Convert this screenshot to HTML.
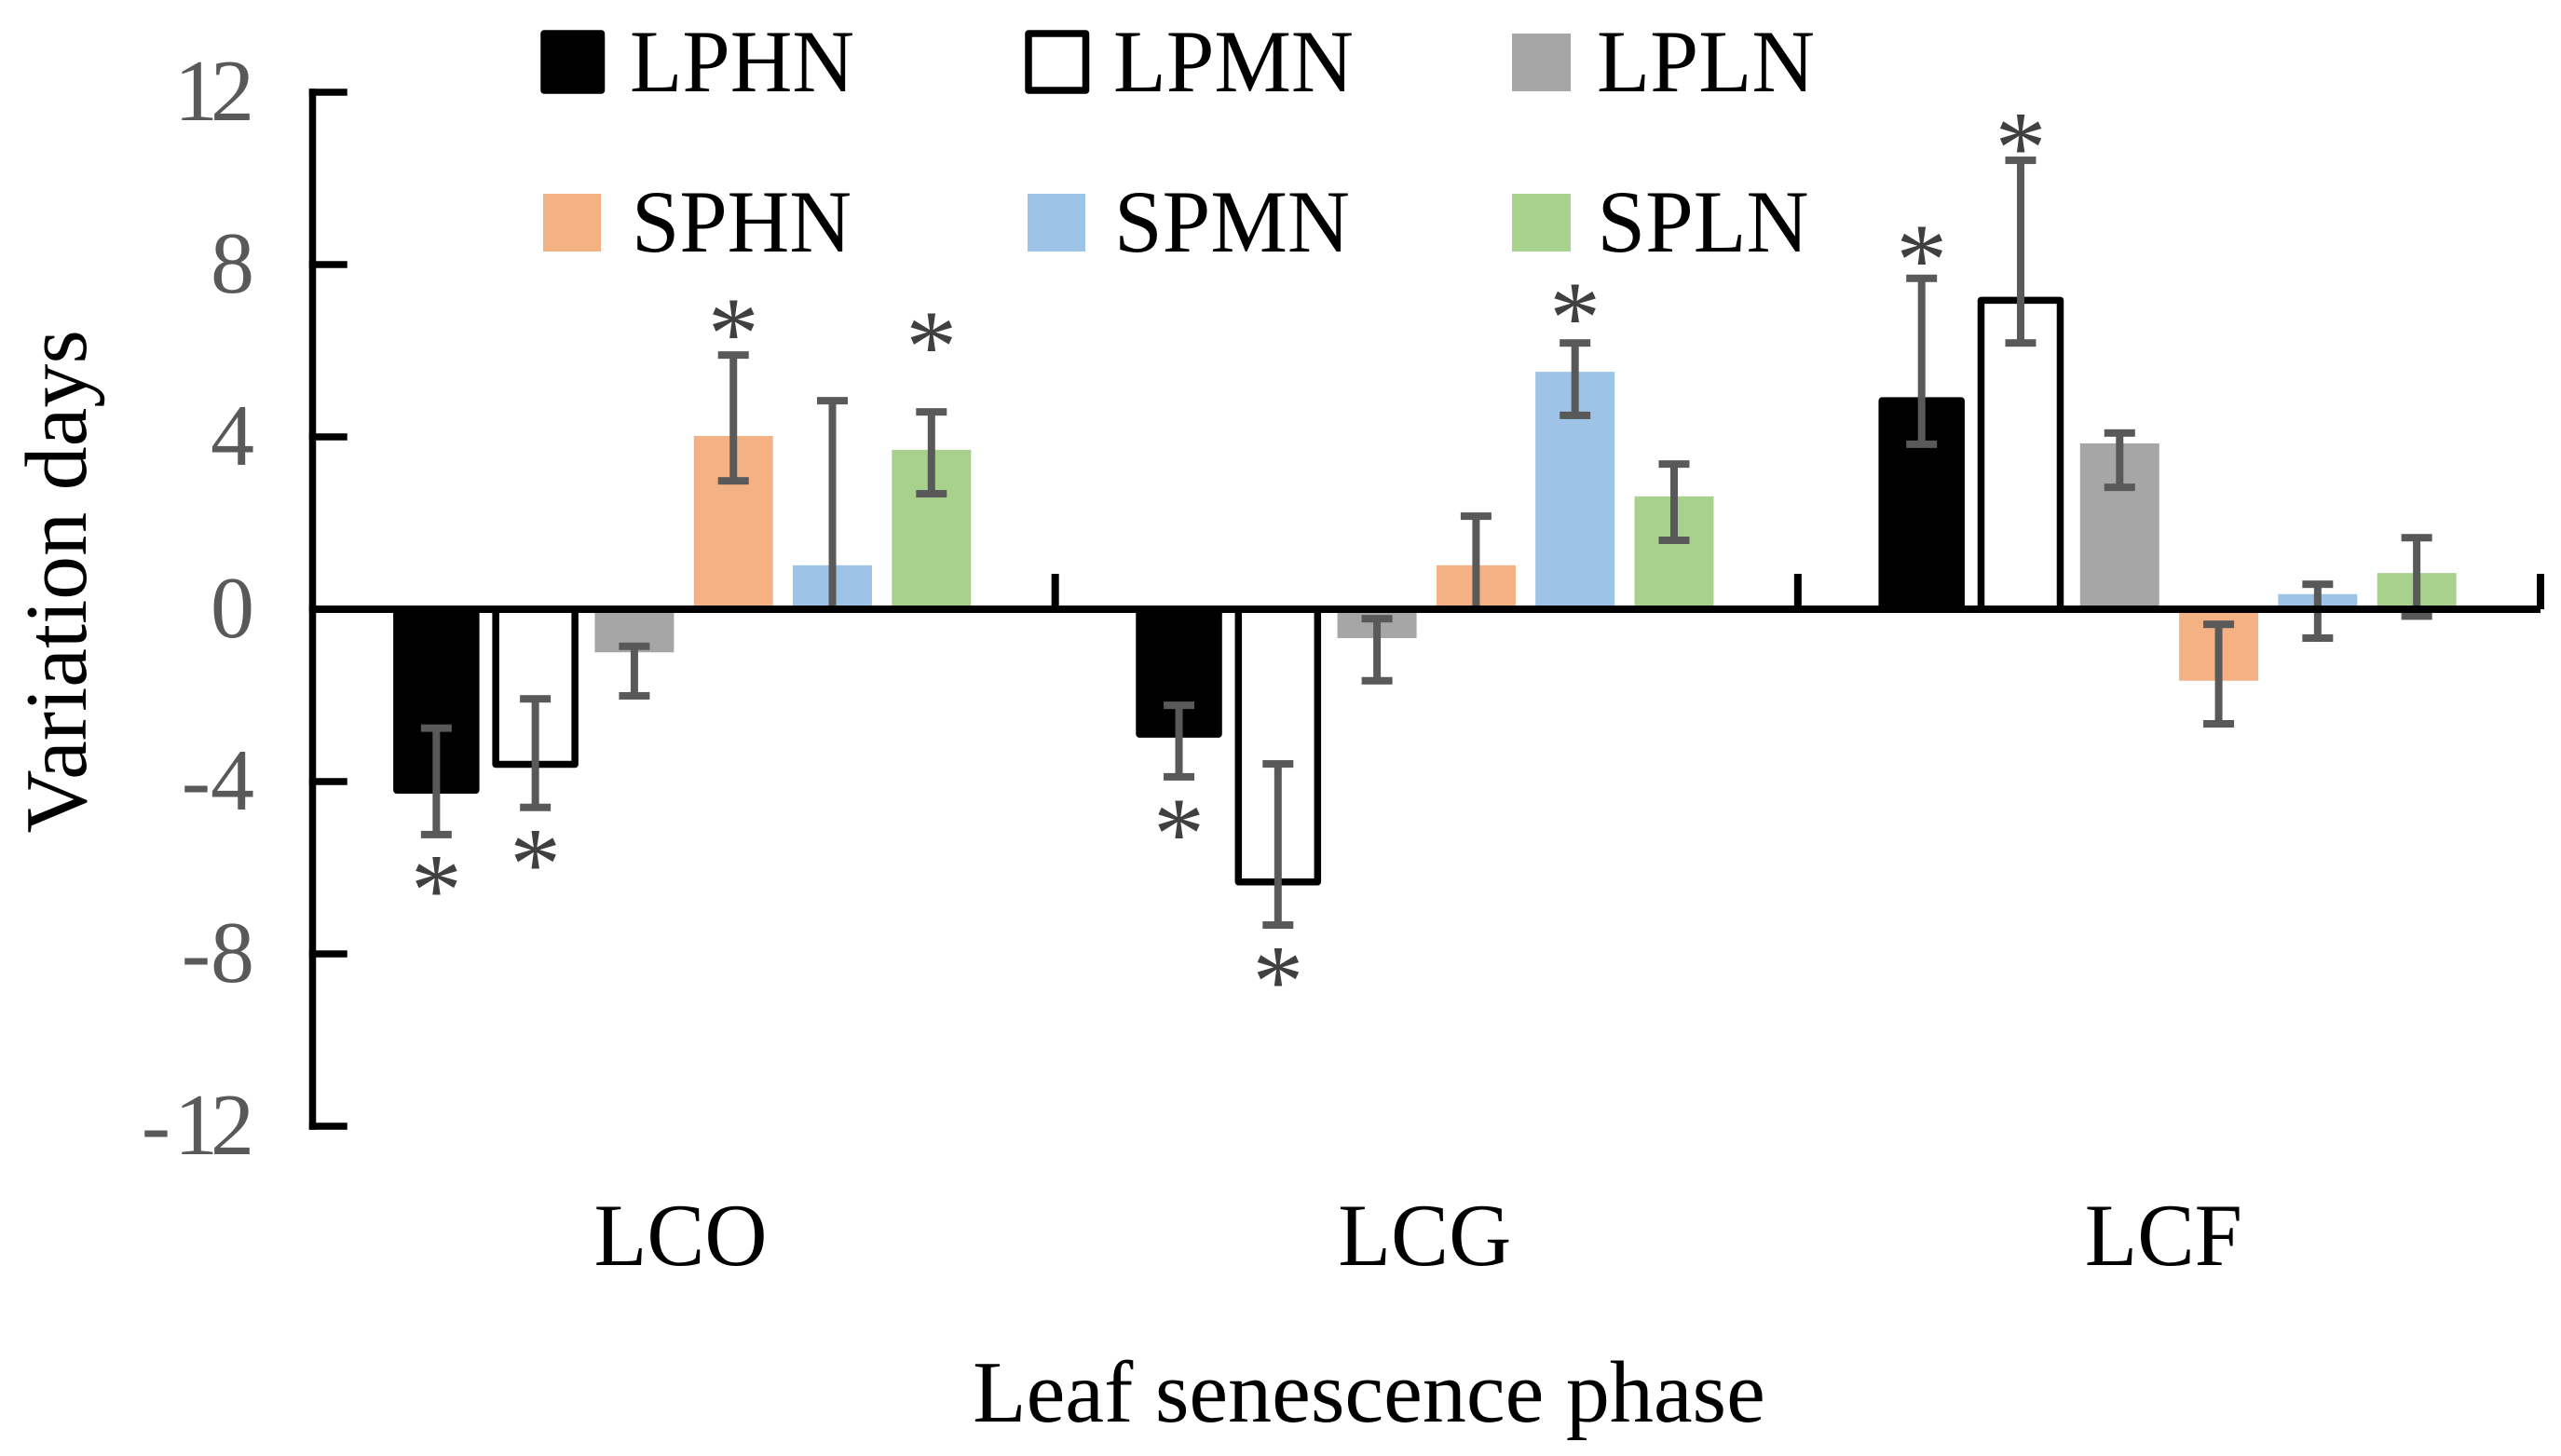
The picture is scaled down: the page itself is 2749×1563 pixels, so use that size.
<!DOCTYPE html>
<html lang="en">
<head>
<meta charset="utf-8">
<title>Variation days by leaf senescence phase</title>
<style>
html,body{margin:0;padding:0;background:#fff;width:2749px;height:1563px;overflow:hidden}
svg{display:block;font-family:"Liberation Serif","Times New Roman",serif}
</style>
</head>
<body>
<svg id="chart" xmlns="http://www.w3.org/2000/svg" width="2749" height="1563" viewBox="0 0 2749 1563">
  <rect x="0" y="0" width="2749" height="1563" fill="#fff"/>
  <g id="bars"></g>
  <g id="errors"></g>
  <g id="axes"></g>
  <g id="stars"></g>

  <text transform="translate(92,354) rotate(-90)" text-anchor="end" font-size="94" fill="#000">Variation days</text>
  <text x="1469.5" y="1526" text-anchor="middle" font-size="94" fill="#000">Leaf senescence phase</text>

  <g font-size="95" fill="#000">
    <g>
      <rect x="584" y="36" width="61.5" height="61" fill="#000" stroke="#000" stroke-width="7.5" stroke-linejoin="round"/>
      <text x="676" y="98" textLength="241" lengthAdjust="spacingAndGlyphs">LPHN</text>
    </g>
    <g>
      <rect x="1104" y="36" width="61.5" height="61" fill="#fff" stroke="#000" stroke-width="7.5" stroke-linejoin="round"/>
      <text x="1195" y="98" textLength="258" lengthAdjust="spacingAndGlyphs">LPMN</text>
    </g>
    <g>
      <rect x="1623" y="36" width="63" height="62" fill="#A6A6A6"/>
      <text x="1714" y="98" textLength="234" lengthAdjust="spacingAndGlyphs">LPLN</text>
    </g>
    <g>
      <rect x="583" y="208" width="62" height="62" fill="#F4B183"/>
      <text x="678" y="270" textLength="236" lengthAdjust="spacingAndGlyphs">SPHN</text>
    </g>
    <g>
      <rect x="1103" y="208" width="62" height="62" fill="#9DC3E6"/>
      <text x="1196" y="270" textLength="253" lengthAdjust="spacingAndGlyphs">SPMN</text>
    </g>
    <g>
      <rect x="1623" y="208" width="63" height="62" fill="#A9D18E"/>
      <text x="1714.5" y="270" textLength="227" lengthAdjust="spacingAndGlyphs">SPLN</text>
    </g>
  </g>
</svg>

<script>
// ---- chart data ----
const categories = ["LCO", "LCG", "LCF"];
const seriesNames = ["LPHN", "LPMN", "LPLN", "SPHN", "SPMN", "SPLN"];
const yTicks = [12, 8, 4, 0, -4, -8, -12];
const yTickLabels = ["12", "8", "4", "0", "-4", "-8", "-12"];

const lphn = [-4.2, -2.9, 4.84];
const lpmn = [-3.6, -6.33, 7.17];
const lpln = [-1.0, -0.67, 3.85];
const sphn = [4.02, 1.02, -1.66];
const spmn = [1.02, 5.51, 0.35];
const spln = [3.7, 2.62, 0.84];

const lphnUpper = [-2.76, -2.23, 7.68];
const lpmnUpper = [-2.08, -3.59, 10.42];
const lplnUpper = [-0.86, -0.22, 4.09];
const sphnUpper = [5.9, 2.16, -0.35];
const spmnUpper = [4.84, 6.18, 0.58];
const splnUpper = [4.58, 3.37, 1.66];

const lphnLower = [-5.23, -3.89, 3.83];
const lpmnLower = [-4.6, -7.33, 6.18];
const lplnLower = [-2.01, -1.66, 2.83];
const sphnLower = [2.98, 0, -2.66];
const spmnLower = [0, 4.5, -0.67];
const splnLower = [2.68, 1.6, -0.16];

// height of each significance mark in y-axis units (null = no mark)
const lphnStar = [-6.2, -4.89, 8.43];
const lpmnStar = [-5.6, -8.32, 11.03];
const lplnStar = [null, null, null];
const sphnStar = [6.72, null, null];
const spmnStar = [null, 7.09, null];
const splnStar = [6.42, null, null];

const seriesValues = [lphn, lpmn, lpln, sphn, spmn, spln];
const seriesUpper = [lphnUpper, lpmnUpper, lplnUpper, sphnUpper, spmnUpper, splnUpper];
const seriesLower = [lphnLower, lpmnLower, lplnLower, sphnLower, spmnLower, splnLower];
const seriesStars = [lphnStar, lpmnStar, lplnStar, sphnStar, spmnStar, splnStar];

// ---- layout + axis functions ----
const NS = "http://www.w3.org/2000/svg";
const plotLeft = 335.5, plotRight = 2727;
const zeroY = 654, unitPx = 46.25;
const groupWidth = (plotRight - plotLeft) / categories.length;
const slotWidth = groupWidth / (seriesNames.length + 1.5);
const barWidth = 85, outlineWidth = 7.5, capWidth = 33, errWidth = 8;
const fills = ["#000000", "#FFFFFF", "#A6A6A6", "#F4B183", "#9DC3E6", "#A9D18E"];
const outlined = [true, true, false, false, false, false];

function yScale(v) { return zeroY - v * unitPx; }
function groupX(c) { return plotLeft + groupWidth * (c + 0.5); }
function barX(c, s) { return groupX(c) + (s - (seriesNames.length - 1) / 2) * slotWidth; }
function make(tag, parent, attrs) {
  const el = document.createElementNS(NS, tag);
  for (const k in attrs) el.setAttribute(k, attrs[k]);
  parent.appendChild(el);
  return el;
}

const barsLayer = document.getElementById("bars");
const errorsLayer = document.getElementById("errors");
const axesLayer = document.getElementById("axes");
const starsLayer = document.getElementById("stars");

// bars, error bars, significance marks
seriesNames.forEach(function (name, s) {
  const key = name.toLowerCase();
  categories.forEach(function (cat, c) {
    const v = seriesValues[s][c];
    const cx = barX(c, s);
    const top = Math.min(yScale(v), zeroY);
    const h = Math.abs(yScale(v) - zeroY);
    const bar = make("rect", barsLayer, { x: cx - barWidth / 2, y: top, width: barWidth, height: h, fill: fills[s] });
    
    
    if (outlined[s]) {
      bar.setAttribute("stroke", "#000");
      bar.setAttribute("stroke-width", outlineWidth);
      bar.setAttribute("stroke-linejoin", "round");
    }

    const yU = yScale(seriesUpper[s][c]);
    const yL = yScale(seriesLower[s][c]);
    const err = make("g", errorsLayer, { fill: "#595959" });
    
    
    make("rect", err, { x: cx - errWidth / 2, y: yU, width: errWidth, height: yL - yU });
    make("rect", err, { x: cx - capWidth / 2, y: yU - 4, width: capWidth, height: 8 });
    make("rect", err, { x: cx - capWidth / 2, y: yL - 4, width: capWidth, height: 8 });

    const star = seriesStars[s][c];
    if (star !== null) {
      const st = make("text", starsLayer, { x: cx, y: yScale(star) + 110 * 0.47, "text-anchor": "middle", "font-size": 110, fill: "#404040" });
      
      
      st.textContent = "*";
    }
  });
});

// y axis line
const yLine = make("rect", axesLayer, { x: plotLeft - 3.75, y: yScale(yTicks[0]) - 3.75, width: 7.5, height: yScale(yTicks[yTicks.length - 1]) - yScale(yTicks[0]) + 7.5, fill: "#000" });



// y ticks and labels
yTicks.forEach(function (t, i) {
  const mark = make("rect", axesLayer, { x: plotLeft - 3.75, y: yScale(t) - 3.75, width: 41, height: 7.5, fill: "#000" });
  
  
  const lab = make("text", axesLayer, { x: 273, y: yScale(t) + 30, "text-anchor": "end", "font-size": 94, fill: "#595959" });
  
  
  lab.textContent = yTickLabels[i];
  // the reference sets "1" and "2" tightly together
  if (yTickLabels[i] === "12") lab.setAttribute("dx", "0 -8");
  if (yTickLabels[i] === "-12") lab.setAttribute("dx", "0 4 -8");
});

// x axis (zero line)
const xLine = make("rect", axesLayer, { x: plotLeft, y: zeroY - 4, width: plotRight - plotLeft, height: 8, fill: "#000" });



// category separators and labels
for (let c = 1; c <= categories.length; c++) {
  const sep = make("rect", axesLayer, { x: plotLeft + groupWidth * c - 4, y: zeroY - 38, width: 8, height: 38, fill: "#000" });
  
  
}
const categoryLabelWidth = { LCO: 186, LCG: 186, LCF: 169 };
const categoryLabelNudge = { LCO: -3.5, LCG: -2, LCF: -6 };
categories.forEach(function (cat, c) {
  const lab = make("text", axesLayer, { x: groupX(c) + categoryLabelNudge[cat], y: 1358, "text-anchor": "middle", "font-size": 95, fill: "#000", textLength: categoryLabelWidth[cat], lengthAdjust: "spacingAndGlyphs" });
  
  
  lab.textContent = cat;
});
</script>
</body>
</html>
